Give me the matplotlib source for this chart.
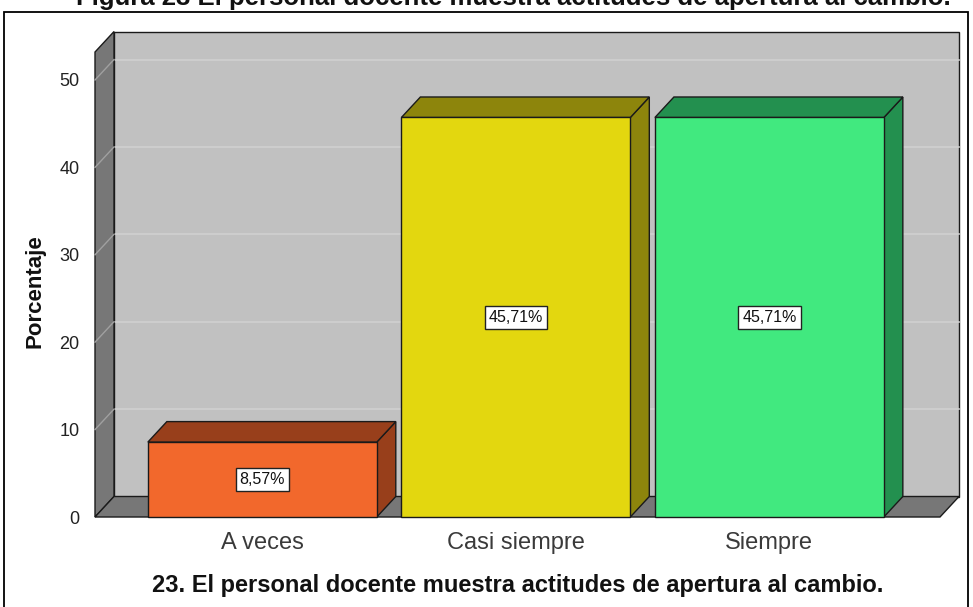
import matplotlib
matplotlib.use("Agg")
import matplotlib.pyplot as plt
from matplotlib.patches import Polygon, Rectangle

plt.rcParams['font.family'] = ['Liberation Sans', 'DejaVu Sans']

categories = ["A veces", "Casi siempre", "Siempre"]
values = [8.57, 45.71, 45.71]
value_labels = ["8,57%", "45,71%", "45,71%"]
yticks = [0, 10, 20, 30, 40, 50]

front_colors = ["#F2682C", "#E3D70F", "#41E97F"]
dark_colors = ["#983F1B", "#8D850C", "#23904F"]

W, H = 973, 607
fig = plt.figure(figsize=(W / 100, H / 100), dpi=100)

# pixel geometry of plot region
px_left, px_right = 95, 940
px_y0 = 517
ppu_y = 8.74
ymax = 55.0
px_top = px_y0 - ymax * ppu_y
xmin, xmax = -0.66, 2.673
ppu_x = (px_right - px_left) / (xmax - xmin)

ax = fig.add_axes([px_left / W, (H - px_y0) / H,
                   (px_right - px_left) / W, (px_y0 - px_top) / H])
ax.set_xlim(xmin, xmax)
ax.set_ylim(0, ymax)
for s in ax.spines.values():
    s.set_visible(False)

dx = 19.0 / ppu_x
dy = 20.5 / ppu_y
wall_top = 53.2

edge = dict(edgecolor="#1a1a1a", linewidth=1.0)

# back wall
ax.add_patch(Polygon([(xmin + dx, dy), (xmax + dx, dy), (xmax + dx, wall_top + dy),
                      (xmin + dx, wall_top + dy)], closed=True, facecolor="#C1C1C1",
                     clip_on=False, zorder=1, **edge))
# gridlines on back wall
for t in yticks[1:]:
    ax.plot([xmin + dx, xmax + dx], [t + dy, t + dy], color="#D0D0D0", lw=1.2,
            zorder=1.5, clip_on=False)
# left wall
ax.add_patch(Polygon([(xmin, 0), (xmin + dx, dy), (xmin + dx, wall_top + dy),
                      (xmin, wall_top)], closed=True, facecolor="#777777",
                     clip_on=False, zorder=2, **edge))
for t in yticks[1:]:
    ax.plot([xmin, xmin + dx], [t, t + dy], color="#A0A0A0", lw=1.0,
            zorder=2.5, clip_on=False)
# floor
ax.add_patch(Polygon([(xmin, 0), (xmax, 0), (xmax + dx, dy), (xmin + dx, dy)],
                     closed=True, facecolor="#777777", clip_on=False, zorder=2, **edge))

bw = 0.903
for i, (v, fc, dc, lab) in enumerate(zip(values, front_colors, dark_colors, value_labels)):
    x0, x1 = i - bw / 2, i + bw / 2
    ax.add_patch(Polygon([(x1, 0), (x1 + dx, dy), (x1 + dx, v + dy), (x1, v)],
                         closed=True, facecolor=dc, zorder=3, clip_on=False, **edge))
    ax.add_patch(Polygon([(x0, v), (x1, v), (x1 + dx, v + dy), (x0 + dx, v + dy)],
                         closed=True, facecolor=dc, zorder=3, clip_on=False, **edge))
    ax.add_patch(Rectangle((x0, 0), bw, v, facecolor=fc, zorder=4, clip_on=False, **edge))
    ax.text(i, v / 2, lab, ha="center", va="center", fontsize=11.5, color="#111111",
            zorder=5, bbox=dict(boxstyle="square,pad=0.25", facecolor="white",
                                edgecolor="#222222", linewidth=1.0))

ax.set_yticks(yticks)
ax.set_yticklabels([str(t) for t in yticks], fontsize=13, color="#222222")
ax.set_xticks(range(len(categories)))
ax.set_xticklabels(categories, fontsize=17, color="#3a3a3a")
ax.tick_params(axis="y", length=0, pad=11)
ax.tick_params(axis="x", length=0, pad=11)
ax.set_ylabel("Porcentaje", fontsize=16, fontweight="bold", color="#111111")
ax.yaxis.set_label_coords(-0.058, 0.47)
ax.set_xlabel("23. El personal docente muestra actitudes de apertura al cambio.",
              fontsize=17, fontweight="bold", color="#111111", labelpad=14)

# outer frame
fig.add_artist(Rectangle((4 / W, -0.01), (968 - 4) / W, (H - 12) / H + 0.01,
                         transform=fig.transFigure, fill=False, edgecolor="black",
                         linewidth=1.3))
# cut-off caption at the top
fig.text(513 / W, 1.0 - 5 / H, "Figura 23 El personal docente muestra actitudes de apertura al cambio.",
         ha="center", va="baseline", fontsize=18.5, fontweight="bold", color="#111111")

fig.savefig("out.png", dpi=100)
